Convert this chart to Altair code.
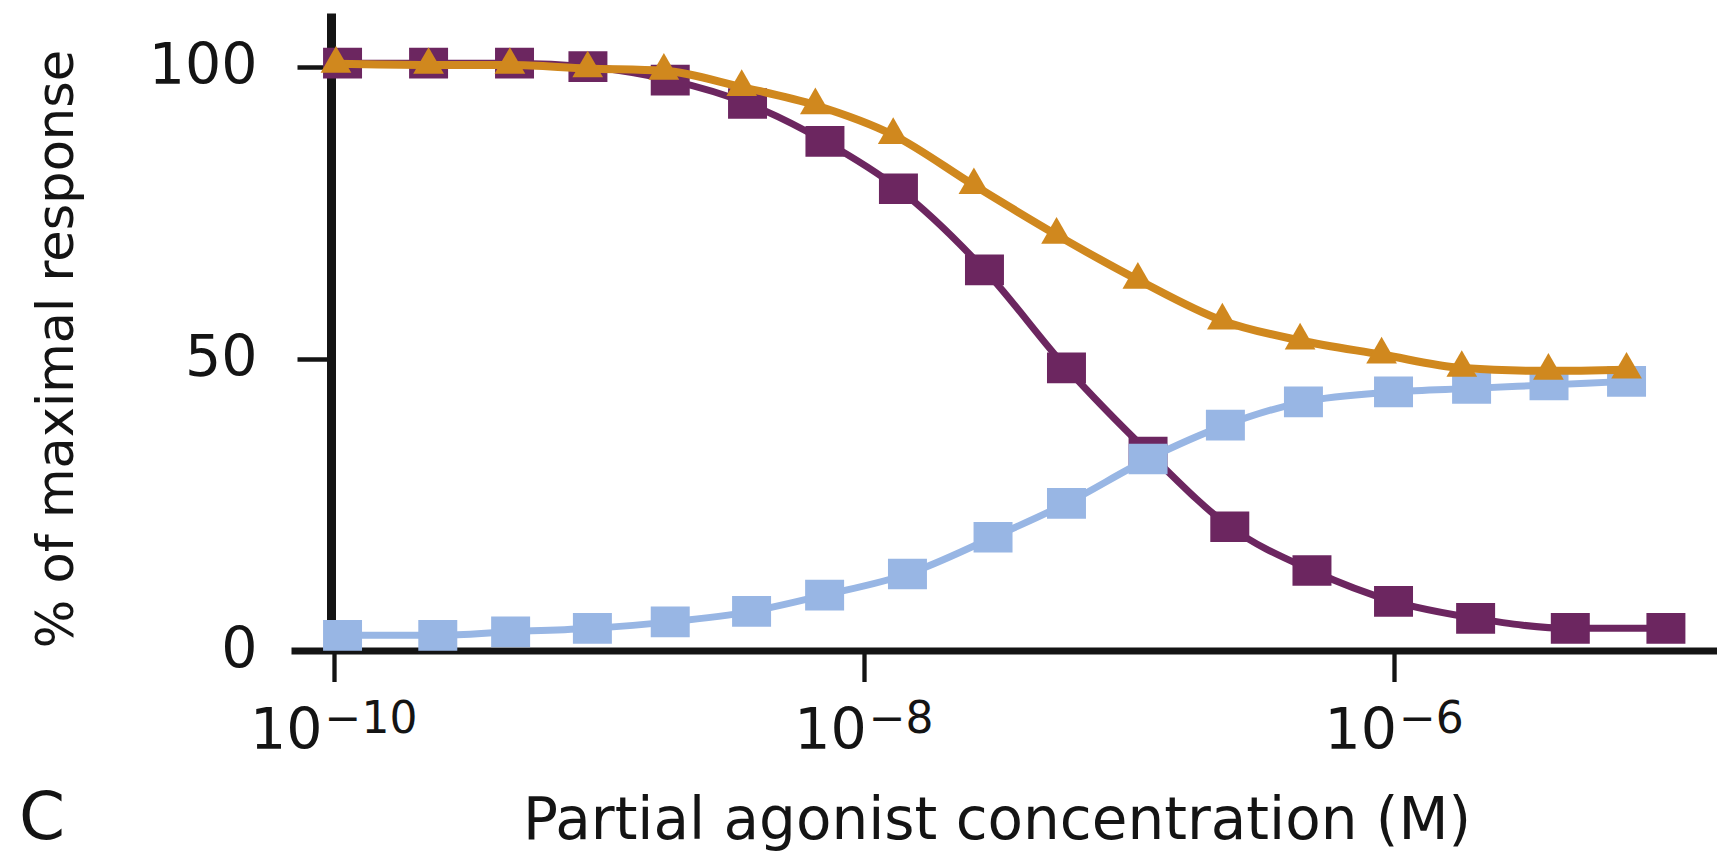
import altair as alt
import pandas as pd

# ---- data ----
purple_conc = [1.08e-10, 2.28e-10, 4.81e-10, 9.10e-10, 1.86e-9, 3.64e-9, 7.13e-9, 1.35e-8,
               2.85e-8, 5.81e-8, 1.18e-7, 2.40e-7, 4.90e-7, 9.95e-7, 2.03e-6, 4.62e-6, 1.06e-5]
purple_resp = [100.6, 100.6, 100.6, 100.0, 97.7, 93.7, 87.2, 79.1,
               65.2, 48.4, 34.0, 21.2, 13.7, 8.4, 5.5, 3.8, 3.8]

blue_conc = [1.08e-10, 2.47e-10, 4.65e-10, 9.46e-10, 1.86e-9, 3.77e-9, 7.11e-9, 1.46e-8,
             3.07e-8, 5.81e-8, 1.18e-7, 2.31e-7, 4.55e-7, 9.95e-7, 1.96e-6, 3.84e-6, 7.53e-6]
blue_resp = [2.6, 2.6, 3.2, 3.8, 4.9, 6.7, 9.5, 13.1,
             19.4, 25.2, 32.8, 38.6, 42.6, 44.3, 44.9, 45.5, 46.1]

orange_conc = [1.02e-10, 2.28e-10, 4.62e-10, 9.08e-10, 1.76e-9, 3.46e-9, 6.56e-9, 1.29e-8,
               2.60e-8, 5.33e-8, 1.08e-7, 2.25e-7, 4.42e-7, 8.97e-7, 1.80e-6, 3.82e-6, 7.53e-6]
orange_resp = [100.5, 100.3, 100.3, 99.7, 99.3, 96.5, 93.4, 88.3,
               79.7, 71.2, 63.5, 56.5, 53.1, 50.7, 48.4, 47.9, 48.1]

x_tick_values = [1e-10, 1e-8, 1e-6]
x_tick_exponents = ["\u221210", "\u22128", "\u22126"]
y_tick_values = [0, 50, 100]

y_title = "% of maximal response"
x_title = "Partial agonist concentration (M)"
panel_label = "C"

# ---- styling ----
PURPLE = "#6C2660"
BLUE = "#98B6E4"
ORANGE = "#D0881E"
INK = "#141414"
FONT = "DejaVu Sans"

X_DOMAIN = [10 ** -10.161, 10 ** -4.782]
Y_DOMAIN = [0, 109.2]

SQUARE = "M-1.27,-1L1.27,-1L1.27,1L-1.27,1Z"
TRIANGLE = "M0,-1.16L1,0.58L-1,0.58Z"
MARKER_SIZE = 942

X_SCALE = alt.Scale(type="log", domain=X_DOMAIN, nice=False)
Y_SCALE = alt.Scale(domain=Y_DOMAIN, nice=False, zero=False)
X_AXIS = alt.Axis(
    values=x_tick_values, labels=False, title=None, grid=False,
    domainColor=INK, domainWidth=7, tickColor=INK, tickWidth=4.3,
    tickSize=31, ticks=True, domain=True,
)
Y_AXIS = alt.Axis(
    values=y_tick_values, title=None, grid=False, offset=-40,
    domainColor=INK, domainWidth=9, tickColor=INK, tickWidth=4.3,
    tickSize=34, labelFont=FONT, labelFontSize=57, labelColor=INK,
    labelPadding=40,
)


def xenc():
    return alt.X("conc:Q", scale=X_SCALE, axis=X_AXIS)


def yenc():
    return alt.Y("resp:Q", scale=Y_SCALE, axis=Y_AXIS)


def series(conc, resp, color, shape, width):
    df = pd.DataFrame({"conc": conc, "resp": resp})
    base = alt.Chart(df).encode(x=xenc(), y=yenc())
    line = base.mark_line(color=color, strokeWidth=width, interpolate="monotone")
    pts = base.mark_point(shape=shape, size=MARKER_SIZE, filled=True,
                          color=color, opacity=1, strokeWidth=0)
    return [line, pts]


layers = []
layers += series(purple_conc, purple_resp, PURPLE, SQUARE, 7)
layers += series(blue_conc, blue_resp, BLUE, SQUARE, 7)
layers += series(orange_conc, orange_resp, ORANGE, TRIANGLE, 8)

# x tick labels: "10" with a raised exponent
BASE_FS = 57
EXP_FS = 44
w10 = 2 * 0.636 * BASE_FS
for val, ex in zip(x_tick_values, x_tick_exponents):
    wexp = 0.838 * EXP_FS + 0.636 * EXP_FS * (len(ex) - 1)
    shift = (w10 - wexp) / 2
    df = pd.DataFrame({"conc": [val], "base": ["10"], "exp": [ex]})
    layers.append(
        alt.Chart(df).mark_text(align="right", baseline="alphabetic", font=FONT,
                                fontSize=BASE_FS, color=INK, dx=shift - 1)
        .encode(x=xenc(), y=alt.value(736), text="base:N")
    )
    layers.append(
        alt.Chart(df).mark_text(align="left", baseline="alphabetic", font=FONT,
                                fontSize=EXP_FS, color=INK, dx=shift + 1)
        .encode(x=xenc(), y=alt.value(720), text="exp:N")
    )

# titles and panel letter
layers.append(
    alt.Chart(pd.DataFrame({"t": [x_title]})).mark_text(
        align="center", baseline="alphabetic", font=FONT, fontSize=58, color=INK)
    .encode(x=alt.value(706), y=alt.value(826), text="t:N")
)
layers.append(
    alt.Chart(pd.DataFrame({"t": [y_title]})).mark_text(
        align="center", baseline="alphabetic", font=FONT, fontSize=51, color=INK, angle=270)
    .encode(x=alt.value(-218), y=alt.value(336), text="t:N")
)
layers.append(
    alt.Chart(pd.DataFrame({"t": [panel_label]})).mark_text(
        align="left", baseline="alphabetic", font=FONT, fontSize=66, color=INK)
    .encode(x=alt.value(-272), y=alt.value(826), text="t:N")
)

chart = alt.layer(*layers).properties(
    width=1426,
    height=637.5,
    padding={"left": 291, "top": 13, "right": 0, "bottom": 204},
    autosize=alt.AutoSizeParams(type="none"),
    background="white",
).configure_view(stroke=None)

chart.save("out.html", embed_options={"renderer": "svg", "actions": False})
